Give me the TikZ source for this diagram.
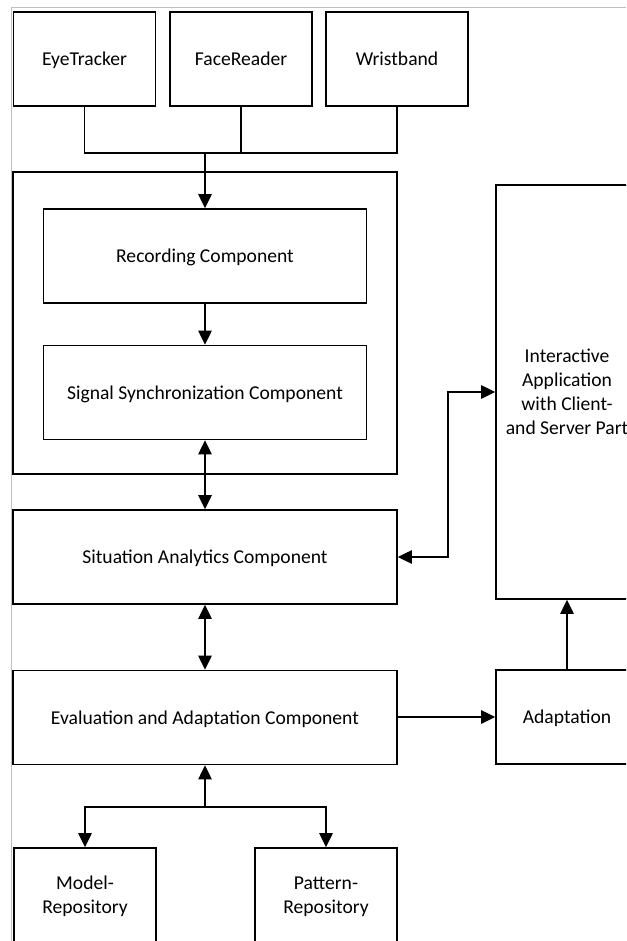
\documentclass[tikz,border=0pt]{standalone}
\usepackage{fontspec}
\setmainfont{Carlito}
\usetikzlibrary{arrows.meta,positioning}
\tikzset{
  block/.style={draw, line width=1.2pt, inner sep=0pt, align=center, text depth=0pt,
    font=\fontsize{14.7}{18}\selectfont},
  sensor/.style={block, minimum width=106.5pt, minimum height=70.5pt},
  wide/.style={block, minimum width=288pt, minimum height=70.5pt},
  inner/.style={block, minimum width=242pt, minimum height=70.5pt},
  conn/.style={line width=1.2pt},
  arr/.style={conn, -{Triangle[length=10.5pt,width=10pt]}},
  dblarr/.style={conn, {Triangle[length=10.5pt,width=10pt]}-{Triangle[length=10.5pt,width=10pt]}},
}
\begin{document}
\begin{tikzpicture}[x=0.75pt,y=-0.75pt]
  \clip (0,0) rectangle (626,941);
  %frame of the screenshot
  \draw[black!25, line width=0.75pt] (11,941) -- (11,8) -- (626,8);

  %sensors
  \node[sensor] (eye) at (84.5,59) {EyeTracker};
  \node[sensor] (face) at (241,59) {FaceReader};
  \node[sensor] (wrist) at (397,59) {Wristband};

  %recording part
  \node[block, minimum width=288pt, minimum height=226.5pt] (record) at (205,323) {};
  \node[inner] (rec) at (205,256) {Recording Component};
  \node[inner] (sync) at (205,392.5) {Signal Synchronization Component};

  %analytics and adaptation
  \node[wide] (sit) at (205,557) {Situation Analytics Component};
  \node[wide] (eval) at (205,717.5) {Evaluation and Adaptation Component};
  \node[sensor, minimum height=310.5pt] (inter) at (567,392) {Interactive\\Application\\with Client-\\and Server Part};
  \node[sensor] (adapt) at (567,717) {Adaptation};

  %repositories
  \node[sensor] (model) at (85,895) {Model-\\Repository};
  \node[sensor] (pattern) at (326,895) {Pattern-\\Repository};

  %connectors
  \coordinate (bus) at (205,153);
  \draw[conn] (eye.south) |- (bus) -| (wrist.south);
  \draw[conn] (face.south) -- (face.south |- bus);
  \draw[arr] (bus) -- (rec.north);
  \draw[arr] (rec) -- (sync);
  \draw[dblarr] (sync) -- (sit);
  \draw[dblarr] (sit) -- (eval);
  \draw[dblarr] (sit.east) -- ++(50,0) |- (inter.west);
  \draw[arr] (eval.east |- adapt) -- (adapt);
  \draw[arr] (adapt) -- (inter);

  \coordinate (hub) at (205,807);
  \draw[arr] (hub) -- (eval.south);
  \draw[arr] (hub) -| (model.north);
  \draw[arr] (hub) -| (pattern.north);
\end{tikzpicture}
\end{document}
